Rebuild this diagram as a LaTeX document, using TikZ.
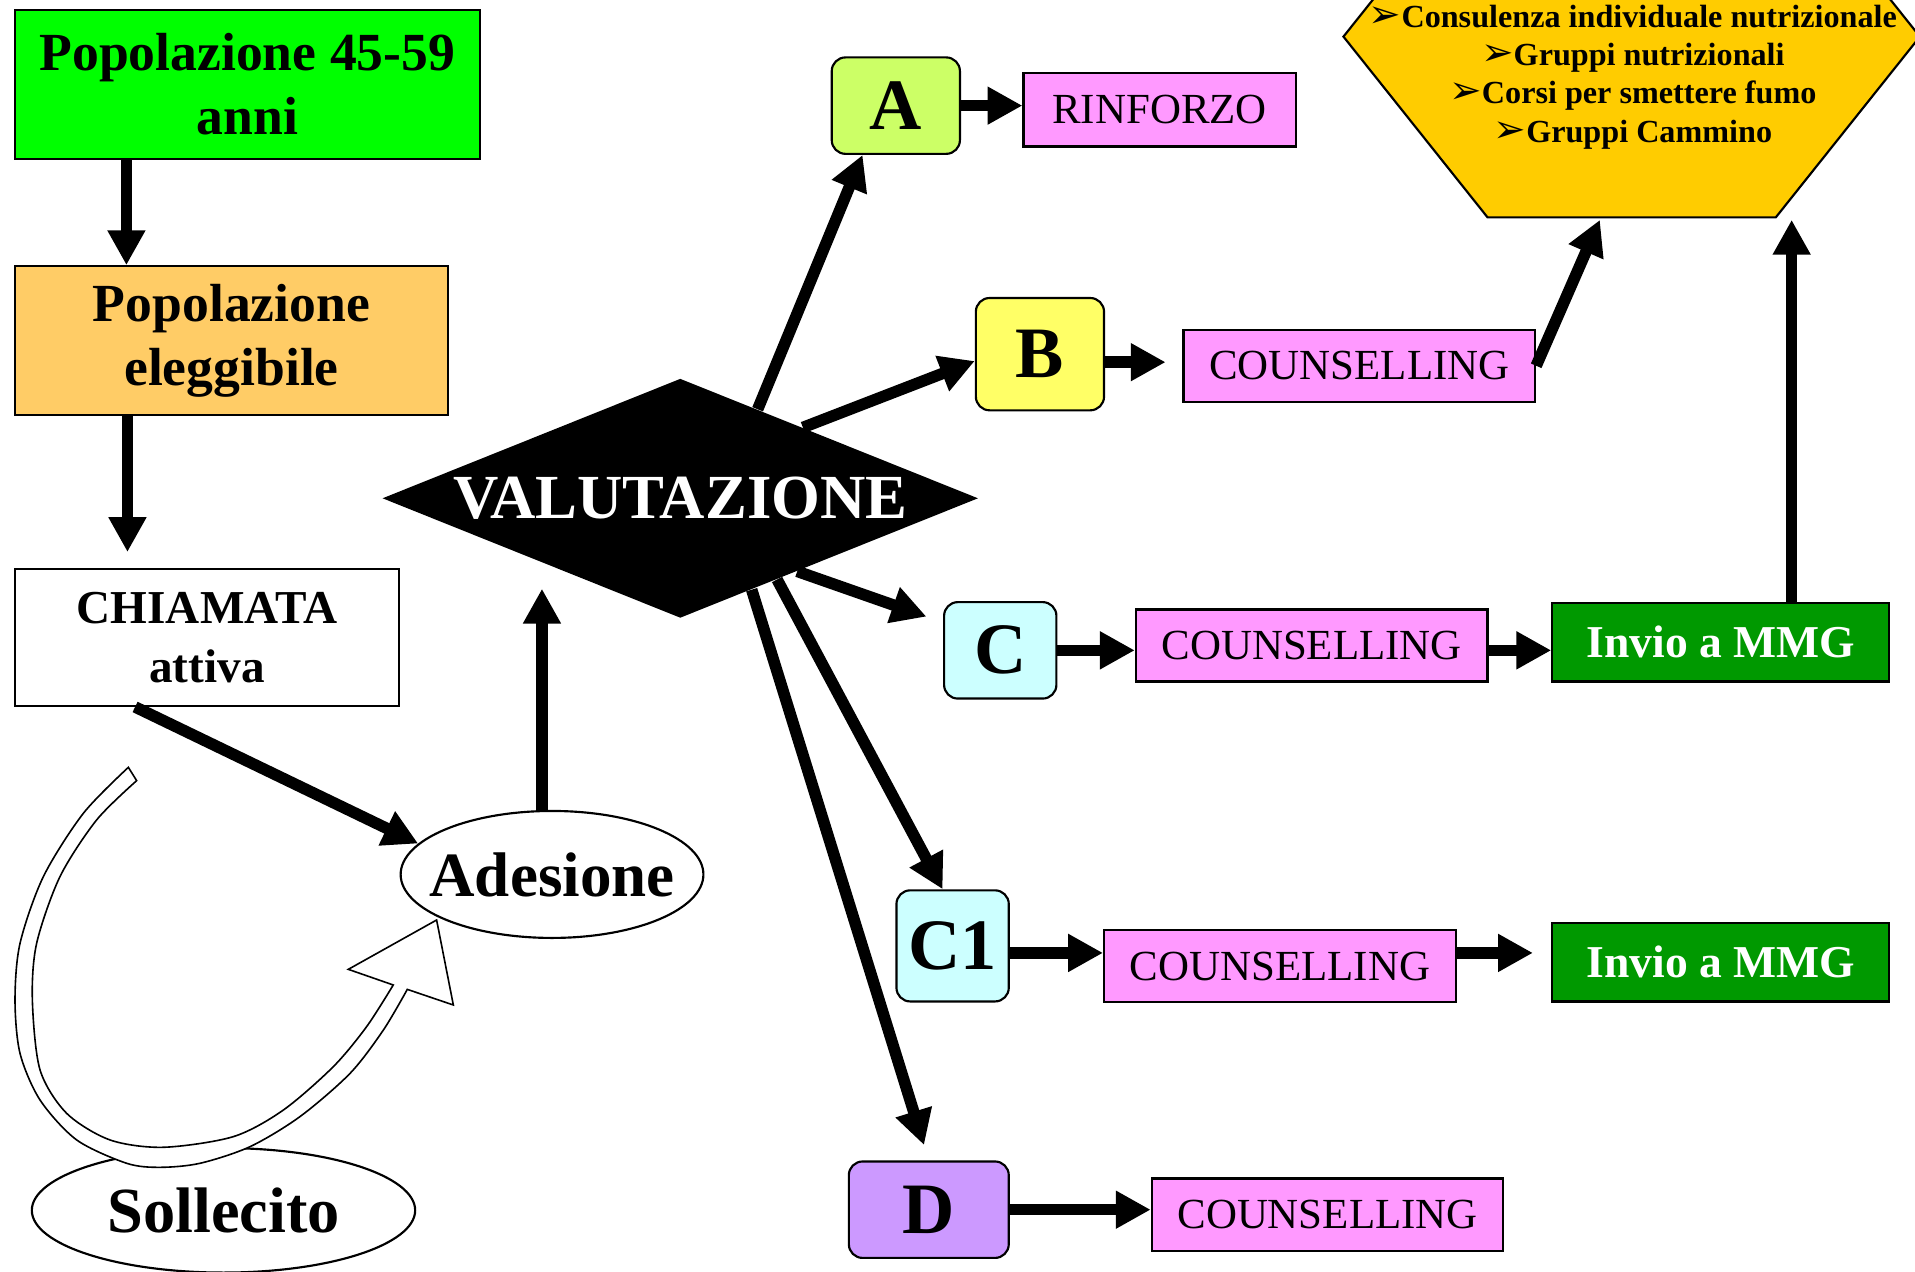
\documentclass[tikz,border=0pt]{standalone}
\usepackage{fontspec}
\setmainfont{Liberation Serif}
\newfontfamily\dejavu{DejaVu Sans}
\usetikzlibrary{shapes.geometric,arrows.meta}
\definecolor{popgreen}{HTML}{00FF00}
\definecolor{elegorange}{HTML}{FFCC66}
\definecolor{boxA}{HTML}{CCFF66}
\definecolor{boxB}{HTML}{FFFF66}
\definecolor{boxC}{HTML}{CCFFFF}
\definecolor{boxD}{HTML}{CC99FF}
\definecolor{pinkbox}{HTML}{FF99FF}
\definecolor{mmggreen}{HTML}{009900}
\definecolor{hexgold}{HTML}{FFCC00}
\newcommand{\bul}{{\dejavu\fontsize{14.5}{14}\selectfont ➢}}

\begin{document}
\begin{tikzpicture}[x=0.016cm,y=-0.016cm,>={Triangle[length=13pt,width=13.3pt]},
    arr/.style={->,line width=4.3pt},
    box/.style={draw,line width=0.8pt,inner sep=0pt,align=center},
    letter/.style={box,rounded corners=0.18cm,font=\fontsize{27}{30}\selectfont\bfseries},
    couns/.style={box,fill=pinkbox,minimum width=4.608cm,minimum height=0.944cm,font=\fontsize{16}{19}\selectfont},
    mmg/.style={box,fill=mmggreen,text=white,minimum width=4.416cm,minimum height=1.024cm,font=\fontsize{17}{20}\selectfont\bfseries},
    oval/.style={draw,ellipse,line width=0.8pt,inner sep=0pt,font=\fontsize{24}{28}\selectfont\bfseries}]
        \useasboundingbox (0,0) rectangle (1568,1041);
        \clip (0,0) rectangle (1568,1041);
        %左列
        \node[box,fill=popgreen,minimum width=6.096cm,minimum height=1.952cm,font=\fontsize{20}{23.7}\selectfont\bfseries] (pop) at (202.5,69) {Popolazione 45-59\\anni};
        \node[box,fill=elegorange,minimum width=5.68cm,minimum height=1.952cm,font=\fontsize{20}{23.7}\selectfont\bfseries] (eleg) at (189.5,279) {Popolazione\\eleggibile};
        \node[box,minimum width=5.04cm,minimum height=1.792cm,font=\fontsize{17.6}{21.8}\selectfont\bfseries] (chiam) at (169.5,522) {CHIAMATA\\attiva};
        \node[oval,minimum width=3.968cm,minimum height=1.664cm,font=\fontsize{23.5}{28}\selectfont\bfseries] (ades) at (452,716) {\makebox[0pt]{Adesione}};
        \node[oval,minimum width=5.024cm,minimum height=1.632cm] (soll) at (183,991) {Sollecito};
        \node[diamond,fill=black,text=white,aspect=2.5,inner sep=0pt,minimum width=7.808cm,minimum height=3.136cm,font=\fontsize{23.4}{26}\selectfont\bfseries] (val) at (557,408) {VALUTAZIONE};
        %分类
        \node[letter,fill=boxA,minimum width=1.68cm,minimum height=1.264cm] (A) at (733.5,86.5) {A};
        \node[letter,fill=boxB,minimum width=1.68cm,minimum height=1.472cm] (B) at (851.5,290) {B};
        \node[letter,fill=boxC,minimum width=1.472cm,minimum height=1.264cm] (C) at (819,532.5) {C};
        \node[letter,fill=boxC,minimum width=1.472cm,minimum height=1.456cm] (C1) at (780,774.5) {C1};
        \node[letter,fill=boxD,minimum width=2.096cm,minimum height=1.264cm] (D) at (760.5,990.5) {D};
        \node[couns,minimum width=3.568cm,minimum height=0.96cm] (rinf) at (949.5,90) {RINFORZO};
        \node[couns] (cB) at (1113,299.5) {COUNSELLING};
        \node[couns] (cC) at (1074,528.5) {COUNSELLING};
        \node[couns] (cC1) at (1048,791) {COUNSELLING};
        \node[couns] (cD) at (1087,994.5) {COUNSELLING};
        \node[mmg] (mmgC) at (1409,526) {Invio a MMG};
        \node[mmg] (mmgC1) at (1409,788) {Invio a MMG};
        %目标
        \draw[line width=0.8pt,fill=hexgold] (1218,-118)--(1454,-118)--(1572,30)--(1454,178)--(1218,178)--(1100,30)--cycle;
        \node[align=center,font=\fontsize{12}{14.3}\selectfont\bfseries] (cure) at (1337,63) {\bul Consulenza individuale nutrizionale\\\bul Gruppi nutrizionali\\\bul Corsi per smettere fumo\\\bul Gruppi Cammino};
        \coordinate (hexL) at (1310,180);
        \coordinate (hexR) at (1467,180);
        %箭头
        \draw[arr] (pop.-148) -- (pop.-148 |- eleg.north);
        \draw[arr,shorten >=0.21cm] (eleg.-144) -- (eleg.-144 |- chiam.north);
        \draw[arr] (chiam.-136) -- (ades.167);
        \draw[arr,shorten >=0.34cm] (ades.north -| val.-155) -- (val.-155);
        \draw[arr] (val.49) -- (A.-124);
        \draw[arr] (val.30) -- (B.186);
        \draw[arr,shorten >=0.23cm] (val.-32) -- (C.154);
        \draw[arr] (val.-40) -- (C1.100);
        \draw[arr,shorten >=0.21cm] (val.-52) -- (D.north);
        \draw[arr] (A.east) -- (A.east -| rinf.west);
        \draw[arr,shorten >=0.22cm] (B.-7) -- (B.-7 -| cB.west);
        \draw[arr] (C.east) -- (C.east -| cC.west);
        \draw[arr] (cC.east |- C.east) -- (mmgC.west |- C.east);
        \draw[arr] (C1.-7) -- (C1.-7 -| cC1.west);
        \draw[arr,shorten >=0.24cm] (cC1.east |- C1.-7) -- (mmgC1.west |- C1.-7);
        \draw[arr] (D.east) -- (D.east -| cD.west);
        \draw[arr] (cB.east) -- (hexL);
        \draw[arr] (mmgC.north -| hexR) -- (hexR);
        %曲线箭头
        \draw[line width=0.6pt,fill=white] plot[smooth] coordinates{(105.1,628.3) (68.2,666) (35.5,717.8) (16.4,772.4) (12.3,818.8) (16.4,862.5) (32.8,900.7) (62.8,933.4) (103.7,952.5) (131,955.8) (163.8,952.5) (204.7,938.9) (245.6,914.3) (286.6,878.9) (313.9,843.4) (333.5,810.1)}
            -- (371.2,822.9) -- (357.5,753.3) -- (285.2,793.7)
            -- plot[smooth] coordinates{(322,806.5) (300.2,840.6) (272.9,873.4) (232,908.9) (191,930.7) (133.7,939.4) (90.1,933.4) (54.6,911.6) (32.8,876.1) (26.5,818.8) (30,772.4) (49.1,717.8) (79.1,671.4) (111.9,639.2)} -- cycle;
\end{tikzpicture}
\end{document}
